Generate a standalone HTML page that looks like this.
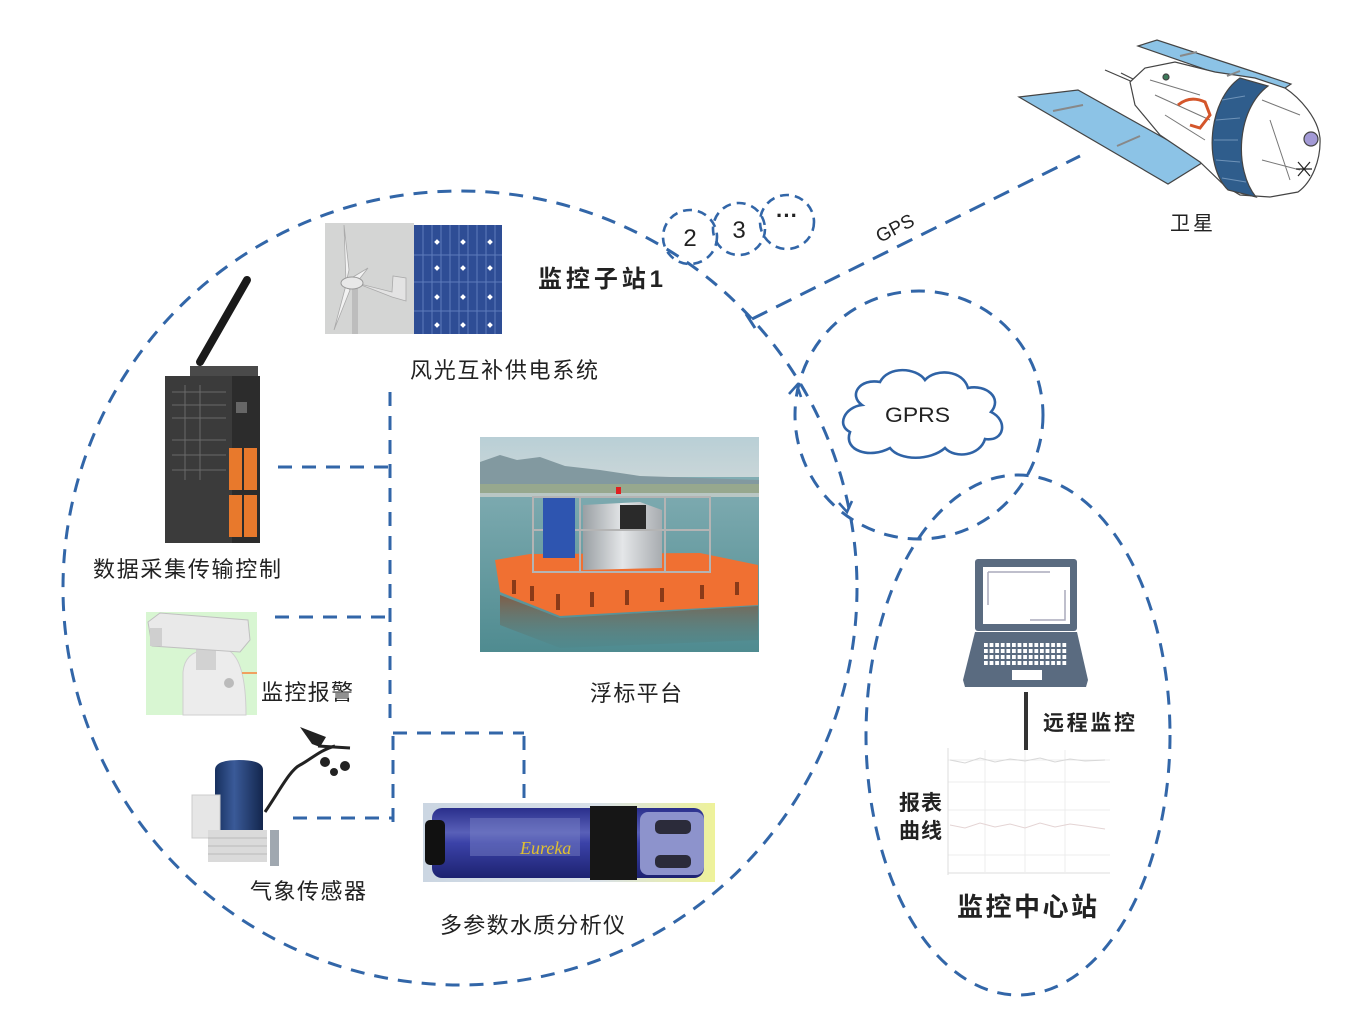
<!DOCTYPE html>
<html><head><meta charset="utf-8"><style>
html,body{margin:0;padding:0;background:#fff;}
svg{display:block;}
.t{font-family:"Liberation Sans","Noto Sans CJK SC",sans-serif;fill:#222;}
.d{fill:none;stroke:#3266a8;stroke-width:3;stroke-dasharray:14 10;}
.s{fill:none;stroke:#3266a8;stroke-width:2.6;stroke-dasharray:9 6;}
</style></head><body>
<svg width="1354" height="1010" viewBox="0 0 1354 1010" xmlns="http://www.w3.org/2000/svg">
<defs>
<linearGradient id="sky" x1="0" y1="0" x2="0" y2="1"><stop offset="0" stop-color="#b9cfd6"/><stop offset="1" stop-color="#c9d6d8"/></linearGradient>
<linearGradient id="water" x1="0" y1="0" x2="0" y2="1"><stop offset="0" stop-color="#8db5bb"/><stop offset="1" stop-color="#4f8b90"/></linearGradient>
<linearGradient id="hull" x1="0" y1="0" x2="1" y2="0"><stop offset="0" stop-color="#9aa0a4"/><stop offset=".5" stop-color="#e4e6e8"/><stop offset="1" stop-color="#a8acb0"/></linearGradient>
<linearGradient id="pbg" x1="0" y1="0" x2="1" y2="0"><stop offset="0" stop-color="#cbd6e2"/><stop offset=".6" stop-color="#d8e0e8"/><stop offset="1" stop-color="#eef29a"/></linearGradient>
<linearGradient id="tube" x1="0" y1="0" x2="0" y2="1"><stop offset="0" stop-color="#2a2f8c"/><stop offset=".35" stop-color="#5960b8"/><stop offset=".5" stop-color="#3b42a8"/><stop offset="1" stop-color="#1d2270"/></linearGradient>
<linearGradient id="cyl" x1="0" y1="0" x2="1" y2="0"><stop offset="0" stop-color="#17305e"/><stop offset=".4" stop-color="#3a5a98"/><stop offset="1" stop-color="#13264d"/></linearGradient>
<linearGradient id="refl" x1="0" y1="0" x2="0" y2="1"><stop offset="0" stop-color="#8a4a2a" stop-opacity=".75"/><stop offset="1" stop-color="#4f7f80" stop-opacity=".2"/></linearGradient>
<pattern id="kp" x="984" y="643" width="5.6" height="6" patternUnits="userSpaceOnUse"><rect width="3.8" height="4" fill="#fff"/></pattern>
</defs>
<rect width="1354" height="1010" fill="#fff"/>

<!-- big substation circle -->
<circle class="d" cx="460" cy="588" r="397"/>
<path d="M839,503 L847,512 L852,501" fill="none" stroke="#3266a8" stroke-width="2.6"/>
<!-- small circles -->
<circle class="s" cx="690" cy="237" r="27"/>
<circle class="s" cx="739" cy="229" r="26"/>
<circle class="s" cx="787" cy="222" r="27"/>
<text class="t" x="690" y="246" font-size="24" text-anchor="middle" fill="#333">2</text>
<text class="t" x="739" y="238" font-size="24" text-anchor="middle" fill="#333">3</text>
<text class="t" x="787" y="223" font-size="22" text-anchor="middle" fill="#333" font-weight="bold">···</text>

<!-- GPRS circle -->
<circle class="d" cx="919" cy="415" r="124"/>
<path d="M789,394 L797,385 L801,397" fill="none" stroke="#3266a8" stroke-width="2.6"/>
<!-- GPS line -->
<line class="d" x1="752" y1="319" x2="1080" y2="156" style="stroke-dasharray:17 10"/>
<line x1="746" y1="314" x2="755" y2="328" stroke="#3266a8" stroke-width="3"/>
<text class="t" x="0" y="0" font-size="19" fill="#333" transform="translate(880,243) rotate(-27)">GPS</text>

<!-- cloud -->
<path d="M862,405 C848,395 860,378 880,382 C888,366 916,367 925,380 C936,368 963,370 968,388 C986,384 1003,398 991,412 C1008,420 1005,442 985,439 C980,456 955,459 945,448 C930,461 900,461 890,448 C870,459 843,451 850,432 C836,425 845,407 862,405 Z" fill="#fff" stroke="#2f63a6" stroke-width="2.6"/>
<text class="t" x="885" y="422" font-size="21" fill="#333" textLength="65" lengthAdjust="spacingAndGlyphs">GPRS</text>

<!-- monitoring center ellipse -->
<ellipse class="d" cx="1018" cy="735" rx="152" ry="260"/>

<!-- satellite -->
<g stroke="#444" stroke-width="1.2">
<line x1="1105" y1="70" x2="1142" y2="86"/>
<line x1="1121" y1="73" x2="1135" y2="80"/>
<polygon points="1138,46 1157,40 1291,84 1276,94" fill="#8cc3e6"/>
<polygon points="1019,97 1078,90 1205,161 1168,184" fill="#8cc3e6"/>
<path d="M1130,82 L1145,68 L1175,62 L1215,72 L1255,78 L1285,88 C1300,98 1318,118 1320,138 C1321,160 1312,182 1298,192 L1270,197 L1240,195 L1225,186 L1200,162 L1160,135 L1135,105 Z" fill="#fff"/>
<path d="M1240,78 C1208,100 1203,165 1228,190 L1256,197 C1234,170 1236,110 1268,86 Z" fill="#2f5d8c"/>
<path d="M1150,80 L1200,95 M1155,95 L1210,120 M1165,115 L1205,140 M1262,100 L1300,115 M1262,160 L1300,170 M1270,120 L1290,180" fill="none" stroke="#777" stroke-width="1"/>
<circle cx="1311" cy="139" r="7" fill="#a39ad6"/>
<circle cx="1166" cy="77" r="3" fill="#3d7a5a"/>
</g>
<g stroke="#6f93b8" stroke-width="1">
<line x1="1222" y1="100" x2="1245" y2="96"/><line x1="1216" y1="120" x2="1240" y2="118"/><line x1="1214" y1="140" x2="1238" y2="140"/><line x1="1216" y1="160" x2="1240" y2="162"/><line x1="1222" y1="178" x2="1246" y2="182"/>
</g>
<path d="M1178,105 Q1190,95 1205,102 L1210,115 L1200,128 L1190,125" fill="none" stroke="#d4562b" stroke-width="3"/>
<g stroke="#888" stroke-width="2"><line x1="1053" y1="111" x2="1083" y2="105"/><line x1="1117" y1="146" x2="1140" y2="136"/><line x1="1180" y1="56" x2="1197" y2="52"/><line x1="1227" y1="76" x2="1240" y2="71"/></g>
<path d="M1298,162 L1310,176 M1310,162 L1298,176 M1296,169 L1312,169" stroke="#222" stroke-width="1.2"/>
<text class="t" x="1170" y="230" font-size="20" fill="#333" textLength="43">卫星</text>

<!-- inner connectors -->
<line class="d" x1="390" y1="392" x2="390" y2="725"/>
<line class="d" x1="278" y1="467" x2="390" y2="467"/>
<line class="d" x1="275" y1="617" x2="390" y2="617"/>
<line class="d" x1="393" y1="733" x2="524" y2="733"/>
<line class="d" x1="524" y1="736" x2="524" y2="803"/>
<line class="d" x1="393" y1="736" x2="393" y2="826"/>
<line class="d" x1="293" y1="818" x2="393" y2="818"/>

<!-- wind turbine -->
<rect x="325" y="223" width="89" height="111" fill="#d4d5d4"/>
<rect x="352" y="287" width="6" height="47" fill="#bdbdbd"/>
<path d="M346,283 L344,225 L349,270 Z" fill="#f2f2f2" stroke="#aaa" stroke-width=".8"/>
<path d="M346,285 L334,330 L350,290 Z" fill="#f2f2f2" stroke="#aaa" stroke-width=".8"/>
<path d="M348,280 L368,268 L354,286 Z" fill="#f2f2f2" stroke="#aaa" stroke-width=".8"/>
<path d="M356,283 L392,292 L393,276 L406,278 L406,301 L392,297 Z" fill="#e3e3e3" stroke="#aaa" stroke-width=".8"/>
<ellipse cx="352" cy="283" rx="11" ry="6" fill="#e8e8e8" stroke="#999"/>
<!-- solar panel -->
<rect x="414" y="225" width="88" height="109" fill="#2e4d95"/>
<g stroke="#5d7cbc" stroke-width="1">
<line x1="423" y1="225" x2="423" y2="334"/><line x1="432" y1="225" x2="432" y2="334"/><line x1="441" y1="225" x2="441" y2="334"/><line x1="450" y1="225" x2="450" y2="334"/><line x1="459" y1="225" x2="459" y2="334"/><line x1="468" y1="225" x2="468" y2="334"/><line x1="477" y1="225" x2="477" y2="334"/><line x1="486" y1="225" x2="486" y2="334"/><line x1="495" y1="225" x2="495" y2="334"/>
<line x1="414" y1="255" x2="502" y2="255"/><line x1="414" y1="282" x2="502" y2="282"/><line x1="414" y1="311" x2="502" y2="311"/>
</g>
<g fill="#fff">
<rect x="435" y="240" width="4" height="4" transform="rotate(45 437 242)"/><rect x="461" y="240" width="4" height="4" transform="rotate(45 463 242)"/><rect x="488" y="240" width="4" height="4" transform="rotate(45 490 242)"/>
<rect x="435" y="266" width="4" height="4" transform="rotate(45 437 268)"/><rect x="461" y="266" width="4" height="4" transform="rotate(45 463 268)"/><rect x="488" y="266" width="4" height="4" transform="rotate(45 490 268)"/>
<rect x="435" y="295" width="4" height="4" transform="rotate(45 437 297)"/><rect x="461" y="295" width="4" height="4" transform="rotate(45 463 297)"/><rect x="488" y="295" width="4" height="4" transform="rotate(45 490 297)"/>
<rect x="435" y="323" width="4" height="4" transform="rotate(45 437 325)"/><rect x="461" y="323" width="4" height="4" transform="rotate(45 463 325)"/><rect x="488" y="323" width="4" height="4" transform="rotate(45 490 325)"/>
</g>
<text class="t" x="538" y="287" font-size="24" font-weight="bold" fill="#111" textLength="125">监控子站1</text>
<text class="t" x="410" y="378" font-size="22" textLength="188">风光互补供电系统</text>

<!-- data device -->
<line x1="200" y1="362" x2="247" y2="280" stroke="#1a1a1a" stroke-width="8" stroke-linecap="round"/>
<rect x="190" y="366" width="68" height="12" fill="#4a4a4a"/>
<rect x="165" y="376" width="68" height="167" fill="#3b3b3b"/>
<rect x="232" y="376" width="28" height="167" fill="#2c2c2c"/>
<g stroke="#6a6a6a" stroke-width="1"><line x1="172" y1="392" x2="226" y2="392"/><line x1="172" y1="405" x2="226" y2="405"/><line x1="172" y1="418" x2="226" y2="418"/><line x1="172" y1="440" x2="226" y2="440"/><line x1="172" y1="455" x2="226" y2="455"/><line x1="172" y1="470" x2="226" y2="470"/><line x1="185" y1="385" x2="185" y2="480"/><line x1="200" y1="385" x2="200" y2="480"/></g>
<rect x="236" y="402" width="11" height="11" fill="#666"/>
<rect x="229" y="448" width="13" height="42" fill="#e8792c"/><rect x="244" y="448" width="13" height="42" fill="#e8792c"/>
<rect x="229" y="495" width="13" height="42" fill="#e8792c"/><rect x="244" y="495" width="13" height="42" fill="#e8792c"/>
<text class="t" x="93" y="577" font-size="22" textLength="188">数据采集传输控制</text>

<!-- buoy photo -->
<rect x="480" y="437" width="279" height="215" fill="url(#water)"/>
<rect x="480" y="437" width="279" height="40" fill="url(#sky)"/>
<polygon points="480,478 480,462 500,455 517,460 540,457 565,466 600,470 640,476 700,478 759,480 759,492 480,493" fill="#8299a0"/>
<rect x="480" y="484" width="279" height="9" fill="#97a88e"/>
<rect x="480" y="493" width="279" height="4" fill="#b9c7c4"/>
<polygon points="500,595 560,618 758,606 758,640 560,648 500,625" fill="url(#refl)"/>
<polygon points="495,560 530,554 700,553 758,565 758,605 560,616 500,592" fill="#f07032"/>
<g fill="#8a3a18"><rect x="512" y="580" width="4" height="14"/><rect x="530" y="586" width="4" height="15"/><rect x="556" y="594" width="4" height="16"/><rect x="590" y="592" width="4" height="15"/><rect x="625" y="590" width="4" height="15"/><rect x="660" y="588" width="4" height="14"/><rect x="700" y="585" width="4" height="14"/><rect x="735" y="582" width="4" height="13"/></g>
<polygon points="583,505 640,502 662,510 662,568 583,570" fill="url(#hull)"/>
<rect x="620" y="505" width="26" height="26" fill="#2a2a2a"/>
<g stroke="#b4b4b4" stroke-width="2" fill="none"><rect x="533" y="497" width="177" height="75"/><line x1="580" y1="497" x2="580" y2="572"/><line x1="665" y1="497" x2="665" y2="572"/><line x1="533" y1="530" x2="710" y2="530"/></g>
<rect x="543" y="498" width="32" height="60" fill="#2e55b0"/>
<rect x="616" y="487" width="5" height="7" fill="#e02020"/>
<text class="t" x="590" y="701" font-size="22" textLength="92">浮标平台</text>

<!-- camera -->
<rect x="146" y="612" width="111" height="103" fill="#d8f6d2"/>
<path d="M183,715 L183,672 Q185,652 205,650 L228,650 Q246,660 246,715 Z" fill="#ececec" stroke="#cfcfcf"/>
<rect x="196" y="640" width="20" height="30" fill="#d2d2d2"/>
<circle cx="229" cy="683" r="5" fill="#bbb"/>
<polygon points="148,622 160,613 248,620 250,640 240,652 152,646" fill="#e9e9e9" stroke="#c0c0c0"/>
<rect x="150" y="628" width="12" height="18" fill="#cfcfcf"/>
<line x1="242" y1="673" x2="257" y2="673" stroke="#f0a060" stroke-width="2"/>
<text class="t" x="261" y="700" font-size="22" textLength="92">监控报警</text>

<!-- weather sensor -->
<path d="M265,812 C280,790 290,770 300,765 C310,760 320,750 335,746" fill="none" stroke="#222" stroke-width="3"/>
<polygon points="300,727 326,737 320,747 312,744" fill="#222"/>
<line x1="318" y1="746" x2="350" y2="748" stroke="#222" stroke-width="3"/>
<circle cx="325" cy="762" r="5" fill="#222"/><circle cx="345" cy="766" r="5" fill="#222"/><circle cx="334" cy="772" r="4" fill="#222"/>
<rect x="270" y="830" width="9" height="36" fill="#a0a8b0"/>
<path d="M215,770 Q215,760 239,760 Q263,760 263,770 L263,830 L215,830 Z" fill="url(#cyl)"/>
<rect x="192" y="795" width="28" height="43" fill="#e6e6e6" stroke="#ccc"/>
<rect x="208" y="830" width="59" height="32" fill="#dadada"/>
<g stroke="#bbb"><line x1="208" y1="838" x2="267" y2="838"/><line x1="208" y1="846" x2="267" y2="846"/><line x1="208" y1="854" x2="267" y2="854"/></g>
<text class="t" x="250" y="899" font-size="22" textLength="116">气象传感器</text>

<!-- probe -->
<rect x="423" y="803" width="292" height="79" fill="url(#pbg)"/>
<rect x="432" y="808" width="272" height="70" rx="10" fill="url(#tube)"/>
<rect x="470" y="818" width="110" height="38" fill="#7d84c8" opacity=".45"/>
<rect x="425" y="820" width="20" height="45" rx="5" fill="#111"/>
<rect x="590" y="806" width="47" height="74" fill="#161616"/>
<rect x="640" y="812" width="64" height="63" rx="8" fill="#8d93cc"/>
<rect x="655" y="820" width="36" height="14" rx="5" fill="#2b2b3a"/>
<rect x="655" y="855" width="36" height="13" rx="5" fill="#2b2b3a"/>
<text x="520" y="854" font-family="Liberation Serif,serif" font-size="18" font-style="italic" fill="#e0c030">Eureka</text>
<text class="t" x="440" y="933" font-size="22" textLength="185">多参数水质分析仪</text>

<!-- laptop -->
<rect x="975" y="559" width="102" height="72" rx="3" fill="#5a6b80"/>
<rect x="983" y="567" width="87" height="57" fill="#fff"/>
<path d="M988,572 L1050,572 M988,572 L988,605 M1065,590 L1065,620 L1030,620" stroke="#aab" stroke-width="1.5" fill="none"/>
<polygon points="975,632 1077,632 1088,680 1086,687 965,687 963,680" fill="#5a6b80"/>
<rect x="984" y="643" width="84" height="24" fill="url(#kp)"/>
<rect x="1012" y="670" width="30" height="10" fill="#fff"/>
<line x1="1026" y1="692" x2="1026" y2="750" stroke="#333" stroke-width="4"/>
<text class="t" x="1043" y="730" font-size="21" font-weight="bold" fill="#444" textLength="92">远程监控</text>

<!-- chart -->
<g stroke="#ececec" stroke-width="1" fill="none">
<line x1="948" y1="760" x2="1110" y2="760"/><line x1="948" y1="782" x2="1110" y2="782"/><line x1="948" y1="810" x2="1110" y2="810"/><line x1="948" y1="855" x2="1110" y2="855"/>
<line x1="985" y1="750" x2="985" y2="872"/><line x1="1025" y1="750" x2="1025" y2="872"/><line x1="1065" y1="750" x2="1065" y2="872"/>
<line x1="948" y1="748" x2="948" y2="875" stroke="#ddd"/><line x1="948" y1="873" x2="1110" y2="873" stroke="#ddd"/>
</g>
<path d="M950,760 L965,763 L980,758 L995,762 L1010,759 L1025,761 L1040,758 L1055,762 L1070,759 L1085,761 L1105,760" stroke="#d8d8d8" fill="none"/>
<path d="M950,825 L965,828 L980,823 L995,827 L1010,824 L1025,828 L1040,823 L1055,827 L1070,824 L1085,826 L1105,829" stroke="#e4d4d4" fill="none"/>
<text class="t" x="899" y="810" font-size="21" font-weight="bold" fill="#444" textLength="43">报表</text>
<text class="t" x="899" y="838" font-size="21" font-weight="bold" fill="#444" textLength="43">曲线</text>
<text class="t" x="957" y="916" font-size="26" font-weight="bold" fill="#111" textLength="140">监控中心站</text>
</svg>
</body></html>
